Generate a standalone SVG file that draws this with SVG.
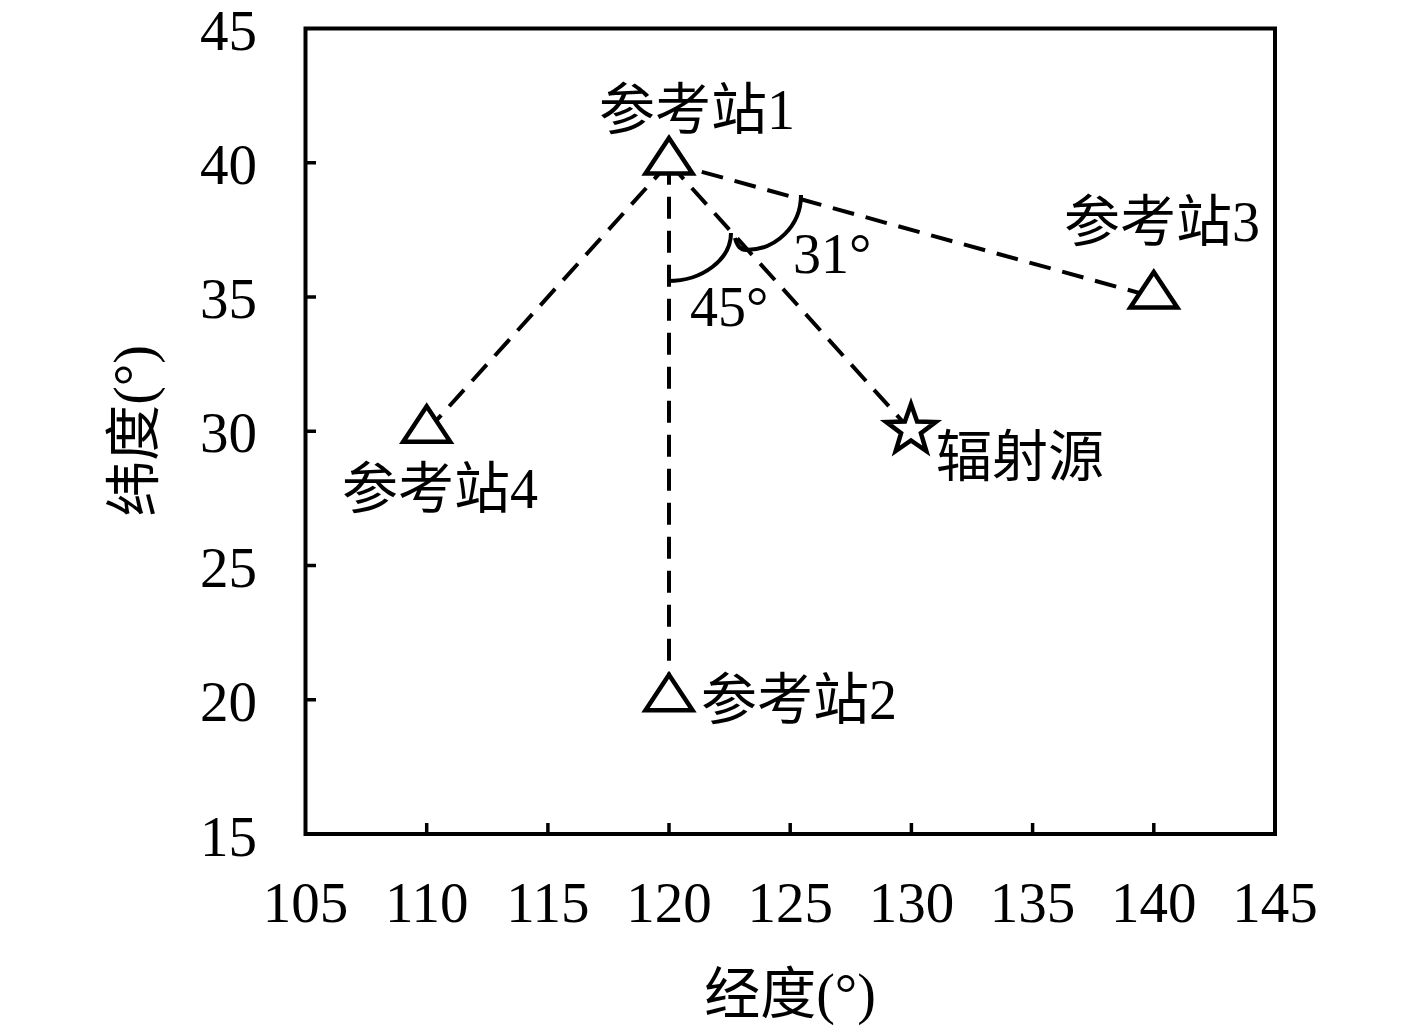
<svg xmlns="http://www.w3.org/2000/svg" width="1417" height="1029" viewBox="0 0 1417 1029">
<style>
.t{font-family:'Liberation Serif','Noto Sans CJK SC',serif;font-size:56px;fill:#000}
.xt{text-anchor:middle;font-size:57px}
.yt{text-anchor:end;font-size:57px}
.ax{fill:none;stroke:#000;stroke-width:4}
.tk{stroke:#000;stroke-width:3.5}
.dl{fill:none;stroke:#000;stroke-width:4;stroke-dasharray:22 12}
.mk{fill:#fff;stroke:#000;stroke-width:4.5;stroke-linejoin:miter}
.arc{fill:none;stroke:#000;stroke-width:4}
</style>
<rect width="1417" height="1029" fill="#fff"/>
<g id="axes">
<rect class="ax" x="305.5" y="28.5" width="969.5" height="805.5"/>
<g id="xticks">
<line class="tk" x1="426.7" y1="834" x2="426.7" y2="823"/>
<line class="tk" x1="547.9" y1="834" x2="547.9" y2="823"/>
<line class="tk" x1="669" y1="834" x2="669" y2="823"/>
<line class="tk" x1="790.2" y1="834" x2="790.2" y2="823"/>
<line class="tk" x1="911.4" y1="834" x2="911.4" y2="823"/>
<line class="tk" x1="1032.6" y1="834" x2="1032.6" y2="823"/>
<line class="tk" x1="1153.8" y1="834" x2="1153.8" y2="823"/>
</g>
<g id="yticks">
<line class="tk" x1="305.5" y1="162.75" x2="316" y2="162.75"/>
<line class="tk" x1="305.5" y1="297" x2="316" y2="297"/>
<line class="tk" x1="305.5" y1="431.25" x2="316" y2="431.25"/>
<line class="tk" x1="305.5" y1="565.5" x2="316" y2="565.5"/>
<line class="tk" x1="305.5" y1="699.75" x2="316" y2="699.75"/>
</g>
<g id="xlabels">
<text class="t xt" x="305.5" y="922">105</text>
<text class="t xt" x="426.7" y="922">110</text>
<text class="t xt" x="547.9" y="922">115</text>
<text class="t xt" x="669" y="922">120</text>
<text class="t xt" x="790.2" y="922">125</text>
<text class="t xt" x="911.4" y="922">130</text>
<text class="t xt" x="1032.6" y="922">135</text>
<text class="t xt" x="1153.8" y="922">140</text>
<text class="t xt" x="1275" y="922">145</text>
</g>
<g id="ylabels">
<text class="t yt" x="257" y="50">45</text>
<text class="t yt" x="257" y="184">40</text>
<text class="t yt" x="257" y="318">35</text>
<text class="t yt" x="257" y="452">30</text>
<text class="t yt" x="257" y="587">25</text>
<text class="t yt" x="257" y="721">20</text>
<text class="t yt" x="257" y="856">15</text>
</g>
<text id="xtitle" class="t" x="790" y="1013" text-anchor="middle">经度(°)</text>
<text id="ytitle" class="t" transform="translate(153,431) rotate(-90)" text-anchor="middle">纬度(°)</text>
</g>
<g id="connectors">
<line class="dl" x1="669" y1="162.75" x2="426.7" y2="431.25"/>
<line class="dl" x1="669" y1="162.75" x2="669" y2="699.75"/>
<line class="dl" x1="669" y1="162.75" x2="911.4" y2="431.25"/>
<line class="dl" x1="669" y1="162.75" x2="1153.8" y2="297"/>
</g>
<g id="angles">
<path class="arc" d="M 668 281 C 703 281 731 259 731 233"/>
<path class="arc" d="M 735 238 Q 738 250 746 250 C 776 250 801 226 801 195"/>
<text class="t" x="793" y="273">31°</text>
<text class="t" x="690" y="326">45°</text>
</g>
<g id="station1">
<polygon class="mk" points="669,138 645.5,173.5 692.5,173.5"/>
<text class="t" x="599" y="129">参考站1</text>
</g>
<g id="station2">
<polygon class="mk" points="669,674.75 645.5,710.25 692.5,710.25"/>
<text class="t" x="701" y="719">参考站2</text>
</g>
<g id="station3">
<polygon class="mk" points="1153.8,272 1130.3,307.5 1177.3,307.5"/>
<text class="t" x="1064" y="241">参考站3</text>
</g>
<g id="station4">
<polygon class="mk" points="426.7,406.25 403.2,441.75 450.2,441.75"/>
<text class="t" x="342" y="508">参考站4</text>
</g>
<g id="source">
<polygon class="mk" points="911,404 917.1,421.6 935.7,422 920.9,433.2 926.3,451 911,440.4 895.7,451 901.1,433.2 886.3,422 904.9,421.6"/>
<text class="t" x="936" y="476">辐射源</text>
</g>
</svg>
